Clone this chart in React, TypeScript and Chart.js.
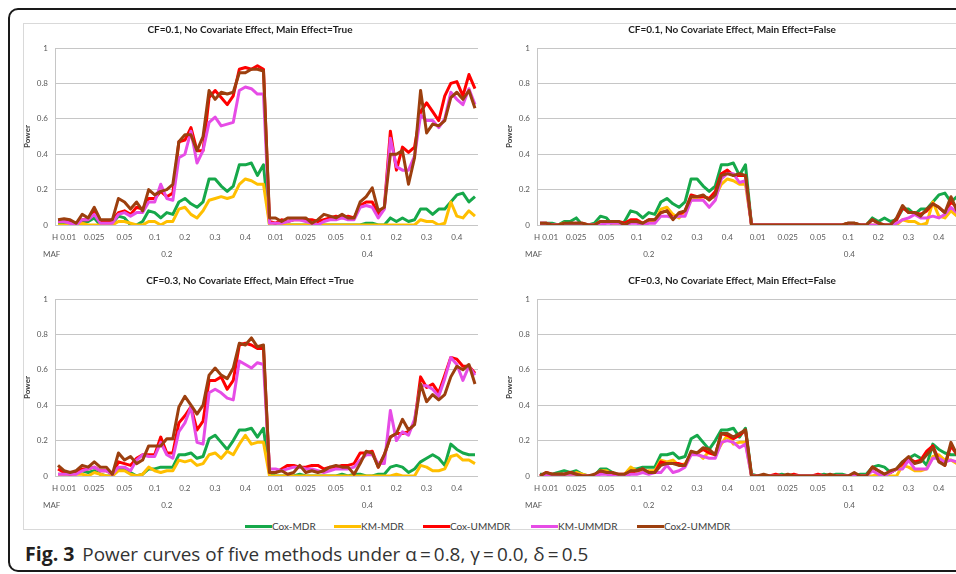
import React, { useEffect, useRef } from 'react';
import { Chart, registerables } from 'chart.js';
Chart.register(...registerables);

// ---------- axis / category data ----------
const mafLevels = ['0.2', '0.4'];
const hLevels = ['0.01', '0.025', '0.05', '0.1', '0.2', '0.3', '0.4'];
const pointsPerH = 5;
const yTicks = [0, 0.2, 0.4, 0.6, 0.8, 1];

const seriesNames = ['Cox-MDR', 'KM-MDR', 'Cox-UMMDR', 'KM-UMMDR', 'Cox2-UMMDR'];
const seriesColors = ['#16a84a', '#ffbf00', '#ff0000', '#e64ce6', '#9c3f0e'];

const panelTitles = [
  'CF=0.1, No Covariate Effect, Main Effect=True',
  'CF=0.1, No Covariate Effect, Main Effect=False',
  'CF=0.3, No Covariate Effect, Main Effect =True',
  'CF=0.3, No Covariate Effect, Main Effect=False',
];

// ---------- series values (70 points: MAF x H x 5) ----------
const coxMDR_cf01 = [
  0.01, 0.01, 0.01, 0.0, 0.02, 0.02, 0.04, 0.0, 0.0, 0.01, 0.05, 0.04, 0.0, 0.0, 0.02,
  0.08, 0.07, 0.04, 0.07, 0.06, 0.13, 0.15, 0.12, 0.1, 0.13, 0.26, 0.26, 0.22, 0.19, 0.22,
  0.34, 0.34, 0.35, 0.28, 0.34,
  0, 0, 0, 0, 0, 0, 0, 0, 0, 0, 0, 0, 0, 0, 0,
  0.0, 0.01, 0.01, 0.0, 0.0, 0.04, 0.02, 0.04, 0.02, 0.03, 0.09, 0.09, 0.06, 0.09, 0.09,
  0.13, 0.17, 0.18, 0.13, 0.16,
];
const kmMDR_cf01 = [
  0, 0, 0, 0, 0.01, 0, 0, 0, 0, 0, 0.02, 0.02, 0.01, 0, 0,
  0.02, 0.02, 0, 0.02, 0.02, 0.09, 0.1, 0.06, 0.04, 0.08, 0.14, 0.15, 0.16, 0.15, 0.16,
  0.23, 0.26, 0.25, 0.23, 0.23,
  0, 0, 0, 0, 0, 0, 0, 0, 0, 0, 0, 0, 0, 0, 0,
  0, 0, 0, 0, 0, 0, 0, 0, 0, 0, 0.03, 0.02, 0.02, 0.0, 0.01,
  0.13, 0.05, 0.04, 0.08, 0.05,
];
const coxUMMDR_p1 = [
  0.02, 0.02, 0.02, 0.01, 0.03, 0.03, 0.08, 0.02, 0.02, 0.03, 0.07, 0.08, 0.06, 0.1, 0.09,
  0.15, 0.15, 0.19, 0.16, 0.18, 0.47, 0.48, 0.55, 0.42, 0.42, 0.72, 0.76, 0.72, 0.68, 0.73,
  0.88, 0.89, 0.88, 0.9, 0.88,
  0.02, 0.01, 0.03, 0.02, 0.03, 0.03, 0.03, 0.03, 0.02, 0.03, 0.04, 0.05, 0.04, 0.05, 0.04,
  0.11, 0.13, 0.13, 0.06, 0.1, 0.53, 0.31, 0.44, 0.41, 0.44, 0.64, 0.69, 0.64, 0.59, 0.73,
  0.8, 0.81, 0.73, 0.85, 0.77,
];
const kmUMMDR_p1 = [
  0.02, 0.02, 0.01, 0.0, 0.03, 0.03, 0.06, 0.01, 0.01, 0.01, 0.06, 0.07, 0.05, 0.07, 0.07,
  0.13, 0.13, 0.23, 0.15, 0.14, 0.38, 0.4, 0.53, 0.35, 0.42, 0.58, 0.61, 0.56, 0.57, 0.58,
  0.76, 0.78, 0.77, 0.74, 0.74,
  0.01, 0.01, 0.01, 0.02, 0.03, 0.03, 0.02, 0.01, 0.0, 0.02, 0.03, 0.03, 0.04, 0.03, 0.03,
  0.1, 0.11, 0.1, 0.04, 0.09, 0.49, 0.33, 0.31, 0.31, 0.39, 0.62, 0.59, 0.59, 0.55, 0.6,
  0.75, 0.71, 0.68, 0.77, 0.68,
];
const cox2UMMDR_p1 = [
  0.03, 0.035, 0.03, 0.01, 0.06, 0.04, 0.1, 0.03, 0.03, 0.03, 0.15, 0.13, 0.09, 0.13, 0.08,
  0.2, 0.17, 0.19, 0.2, 0.23, 0.47, 0.51, 0.51, 0.42, 0.5, 0.76, 0.71, 0.75, 0.74, 0.75,
  0.86, 0.86, 0.88, 0.88, 0.87,
  0.04, 0.04, 0.02, 0.04, 0.04, 0.04, 0.04, 0.01, 0.03, 0.06, 0.05, 0.04, 0.06, 0.04, 0.04,
  0.13, 0.16, 0.21, 0.08, 0.1, 0.4, 0.4, 0.42, 0.23, 0.38, 0.76, 0.52, 0.57, 0.56, 0.59,
  0.72, 0.75, 0.71, 0.76, 0.66,
];
const coxUMMDR_p2 = [
  0.01, 0.01, 0, 0, 0, 0.01, 0.01, 0.01, 0, 0, 0.02, 0.02, 0.02, 0.02, 0.01,
  0.03, 0.03, 0.01, 0.03, 0.03, 0.07, 0.08, 0.04, 0.06, 0.08, 0.17, 0.16, 0.16, 0.15, 0.19,
  0.29, 0.31, 0.28, 0.28, 0.28,
  0, 0, 0, 0, 0, 0, 0, 0, 0, 0, 0, 0, 0, 0, 0,
  0.0, 0.01, 0.01, 0.0, 0.0, 0.03, 0.01, 0.0, 0.0, 0.03, 0.1, 0.07, 0.07, 0.06, 0.08,
  0.12, 0.1, 0.07, 0.13, 0.1,
];
const kmUMMDR_p2 = [
  0.01, 0.01, 0, 0, 0, 0, 0.01, 0, 0, 0, 0, 0.01, 0.01, 0.01, 0,
  0.01, 0.01, 0, 0.01, 0.01, 0.05, 0.05, 0.04, 0.05, 0.05, 0.14, 0.14, 0.14, 0.1, 0.14,
  0.26, 0.29, 0.29, 0.24, 0.25,
  0, 0, 0, 0, 0, 0, 0, 0, 0, 0, 0, 0, 0, 0, 0,
  0, 0, 0, 0, 0, 0, 0, 0, 0, 0.01, 0.03, 0.04, 0.06, 0.04, 0.04,
  0.05, 0.04, 0.06, 0.1, 0.07,
];
const cox2UMMDR_p2 = [
  0.01, 0.01, 0, 0, 0.01, 0.01, 0.01, 0.01, 0, 0, 0.02, 0.02, 0.02, 0.02, 0,
  0.02, 0.02, 0.01, 0.03, 0.03, 0.07, 0.08, 0.03, 0.07, 0.08, 0.16, 0.16, 0.17, 0.14, 0.17,
  0.28, 0.29, 0.28, 0.29, 0.28,
  0, 0, 0, 0, 0, 0, 0, 0, 0, 0, 0, 0, 0, 0, 0,
  0.0, 0.01, 0.01, 0.0, 0.0, 0.03, 0.01, 0.0, 0.0, 0.04, 0.11, 0.07, 0.07, 0.05, 0.09,
  0.12, 0.1, 0.07, 0.16, 0.08,
];
const coxMDR_cf03 = [
  0.01, 0.01, 0.01, 0.02, 0.03, 0.02, 0.03, 0.01, 0.0, 0.0, 0.04, 0.04, 0.02, 0.0, 0.01,
  0.04, 0.04, 0.05, 0.05, 0.05, 0.12, 0.12, 0.13, 0.1, 0.11, 0.21, 0.23, 0.19, 0.15, 0.2,
  0.26, 0.26, 0.27, 0.22, 0.27,
  0.01, 0, 0, 0, 0, 0.01, 0, 0, 0, 0, 0, 0, 0.01, 0, 0.01,
  0.01, 0, 0, 0.01, 0.01, 0.05, 0.06, 0.05, 0.02, 0.04, 0.08, 0.1, 0.12, 0.1, 0.06,
  0.18, 0.15, 0.13, 0.12, 0.12,
];
const kmMDR_cf03 = [
  0, 0, 0, 0.01, 0.01, 0, 0.02, 0.01, 0, 0, 0.03, 0.03, 0.01, 0, 0.01,
  0.05, 0.03, 0.02, 0.03, 0.03, 0.09, 0.08, 0.09, 0.06, 0.07, 0.12, 0.13, 0.1, 0.14, 0.12,
  0.18, 0.23, 0.18, 0.19, 0.19,
  0, 0, 0, 0, 0, 0, 0, 0, 0, 0, 0, 0, 0, 0, 0,
  0, 0, 0, 0, 0, 0, 0.01, 0, 0, 0, 0.06, 0.05, 0.03, 0.03, 0.04,
  0.11, 0.12, 0.09, 0.09, 0.07,
];
const coxUMMDR_p3 = [
  0.04, 0.02, 0.01, 0.02, 0.04, 0.04, 0.05, 0.03, 0.03, 0.01, 0.08, 0.07, 0.06, 0.1, 0.12,
  0.12, 0.12, 0.22, 0.13, 0.13, 0.3, 0.34, 0.39, 0.26, 0.31, 0.54, 0.54, 0.56, 0.49, 0.54,
  0.74, 0.75, 0.74, 0.72, 0.72,
  0.02, 0.02, 0.04, 0.06, 0.06, 0.05, 0.05, 0.06, 0.06, 0.04, 0.05, 0.05, 0.06, 0.06, 0.07,
  0.13, 0.13, 0.14, 0.05, 0.12, 0.22, 0.24, 0.24, 0.25, 0.3, 0.56, 0.5, 0.52, 0.47, 0.57,
  0.67, 0.66, 0.62, 0.62, 0.58,
];
const kmUMMDR_p3 = [
  0.01, 0.01, 0.01, 0.01, 0.03, 0.04, 0.05, 0.03, 0.03, 0.01, 0.05, 0.05, 0.03, 0.09, 0.12,
  0.11, 0.11, 0.19, 0.12, 0.1, 0.25, 0.3, 0.39, 0.19, 0.18, 0.47, 0.49, 0.47, 0.44, 0.43,
  0.65, 0.63, 0.61, 0.64, 0.63,
  0.04, 0.04, 0.03, 0.04, 0.05, 0.05, 0.04, 0.04, 0.03, 0.02, 0.03, 0.04, 0.04, 0.04, 0.05,
  0.09, 0.12, 0.12, 0.07, 0.07, 0.37, 0.2, 0.25, 0.23, 0.32, 0.51, 0.51, 0.49, 0.45, 0.55,
  0.67, 0.63, 0.54, 0.62, 0.57,
];
const cox2UMMDR_p3 = [
  0.06, 0.03, 0.02, 0.03, 0.06, 0.05, 0.08, 0.05, 0.05, 0.01, 0.13, 0.09, 0.11, 0.07, 0.09,
  0.17, 0.17, 0.17, 0.21, 0.21, 0.39, 0.45, 0.4, 0.35, 0.4, 0.57, 0.61, 0.57, 0.55, 0.61,
  0.75, 0.74, 0.78, 0.73, 0.74,
  0.02, 0.02, 0.03, 0.01, 0.02, 0.06, 0.02, 0.03, 0.02, 0.03, 0.05, 0.06, 0.05, 0.05, 0.01,
  0.07, 0.14, 0.13, 0.05, 0.12, 0.22, 0.24, 0.32, 0.26, 0.29, 0.52, 0.42, 0.46, 0.43, 0.46,
  0.56, 0.62, 0.6, 0.63, 0.52,
];
const coxUMMDR_p4 = [
  0, 0.02, 0.01, 0.01, 0.01, 0.02, 0.01, 0, 0, 0, 0.02, 0.02, 0.01, 0.01, 0.01,
  0.02, 0.03, 0.04, 0.02, 0.02, 0.08, 0.07, 0.07, 0.07, 0.06, 0.13, 0.13, 0.15, 0.13, 0.12,
  0.24, 0.23, 0.21, 0.23, 0.26,
  0, 0, 0, 0, 0.01, 0, 0, 0.01, 0, 0, 0, 0.01, 0, 0, 0,
  0, 0, 0.01, 0, 0, 0.05, 0.03, 0.01, 0.02, 0.04, 0.07, 0.1, 0.08, 0.09, 0.14,
  0.17, 0.09, 0.06, 0.17, 0.12,
];
const kmUMMDR_p4 = [
  0, 0.01, 0, 0, 0.01, 0.01, 0.01, 0, 0, 0, 0.01, 0.01, 0, 0, 0,
  0.01, 0.01, 0.02, 0.01, 0.02, 0.02, 0.06, 0.02, 0.03, 0.05, 0.12, 0.12, 0.11, 0.1, 0.1,
  0.19, 0.2, 0.19, 0.16, 0.18,
  0, 0, 0, 0, 0, 0, 0, 0, 0, 0, 0, 0, 0, 0, 0,
  0, 0, 0, 0, 0, 0.03, 0.01, 0.0, 0.02, 0.04, 0.04, 0.09, 0.04, 0.04, 0.04,
  0.1, 0.1, 0.08, 0.09, 0.08,
];
const cox2UMMDR_p4 = [
  0, 0.02, 0.01, 0.01, 0.01, 0.02, 0.01, 0, 0, 0.01, 0.03, 0.02, 0.02, 0.01, 0.01,
  0.03, 0.03, 0.04, 0.02, 0.02, 0.06, 0.07, 0.07, 0.06, 0.06, 0.14, 0.13, 0.16, 0.15, 0.12,
  0.24, 0.24, 0.22, 0.24, 0.26,
  0, 0, 0.01, 0, 0, 0, 0.01, 0, 0, 0, 0, 0, 0, 0.01, 0,
  0, 0, 0.02, 0, 0, 0.05, 0.03, 0.01, 0.03, 0.04, 0.08, 0.11, 0.07, 0.08, 0.12,
  0.16, 0.08, 0.06, 0.19, 0.12,
];

// ---------- derived structures ----------
const categories: string[] = [];
mafLevels.forEach((m) => hLevels.forEach((h) => {
  for (let k = 0; k < pointsPerH; k++) categories.push(`${m}|${h}|${k + 1}`);
}));

const panels = [
  { title: panelTitles[0], left: 23, top: 23, series: [coxMDR_cf01, kmMDR_cf01, coxUMMDR_p1, kmUMMDR_p1, cox2UMMDR_p1] },
  { title: panelTitles[1], left: 505, top: 23, series: [coxMDR_cf01, kmMDR_cf01, coxUMMDR_p2, kmUMMDR_p2, cox2UMMDR_p2] },
  { title: panelTitles[2], left: 23, top: 274, series: [coxMDR_cf03, kmMDR_cf03, coxUMMDR_p3, kmUMMDR_p3, cox2UMMDR_p3] },
  { title: panelTitles[3], left: 505, top: 274, series: [coxMDR_cf03, kmMDR_cf03, coxUMMDR_p4, kmUMMDR_p4, cox2UMMDR_p4] },
];

const legendX = [245, 334, 423, 531, 637];

const CW = 460;
const CH = 245;
const FONT = 'Lato, "Open Sans", sans-serif';

function makeLabelPlugin(title: string) {
  return {
    id: 'excelLabels',
    afterDraw(chart: any) {
      const { ctx, chartArea } = chart;
      const x = chart.scales.x;
      ctx.save();
      // title
      ctx.fillStyle = '#1e1e1e';
      ctx.font = `bold 10px ${FONT}`;
      ctx.textAlign = 'center';
      ctx.textBaseline = 'middle';
      ctx.fillText(title, 227, 6.5);
      // axis title
      ctx.save();
      ctx.translate(4.5, (chartArea.top + chartArea.bottom) / 2);
      ctx.rotate(-Math.PI / 2);
      ctx.font = `bold 8px ${FONT}`;
      ctx.fillStyle = '#404040';
      ctx.fillText('Power', 0, 0);
      ctx.restore();
      // category labels
      ctx.font = `8px ${FONT}`;
      ctx.fillStyle = '#595959';
      const per = hLevels.length * pointsPerH;
      const yH = chartArea.bottom + 12.5;
      const yM = chartArea.bottom + 29;
      mafLevels.forEach((m, mi) => {
        hLevels.forEach((h, hi) => {
          const px = x.getPixelForValue(mi * per + hi * pointsPerH + 1);
          const txt = mi === 0 && hi === 0 ? 'H ' + h : h;
          ctx.fillText(txt, px, yH);
        });
        const mpx = x.getPixelForValue(mi * per + (mi === 0 ? 18 : 16.2));
        ctx.fillText(m, mpx, yM);
      });
      ctx.textAlign = 'left';
      ctx.fillText('MAF', chartArea.left - 12, yM);
      ctx.restore();
    },
  };
}

function Panel({ title, left, top, series }: { title: string; left: number; top: number; series: number[][] }) {
  const ref = useRef<HTMLCanvasElement>(null);
  useEffect(() => {
    const chart = new Chart(ref.current as HTMLCanvasElement, {
      type: 'line',
      data: {
        labels: categories,
        datasets: series.map((d, i) => ({
          label: seriesNames[i],
          data: d,
          borderColor: seriesColors[i],
          backgroundColor: seriesColors[i],
          borderWidth: 3,
          pointRadius: 0,
          tension: 0,
          fill: false,
          order: series.length - i,
          borderJoinStyle: 'round' as const,
        })),
      },
      options: {
        animation: false,
        responsive: false,
        maintainAspectRatio: false,
        events: [],
        layout: { padding: { top: 25, right: 5, left: 0, bottom: 0 } },
        plugins: { legend: { display: false }, tooltip: { enabled: false }, title: { display: false } },
        scales: {
          x: {
            type: 'category',
            offset: true,
            grid: { display: false },
            border: { display: false },
            ticks: { display: false },
            afterFit: (s: any) => { s.height = 43; },
          },
          y: {
            min: 0,
            max: 1,
            afterBuildTicks: (s: any) => { s.ticks = yTicks.map((v) => ({ value: v })); },
            ticks: {
              padding: 7,
              color: '#595959',
              font: { family: FONT, size: 8 },
              callback: (v: any) => String(Math.round(Number(v) * 10) / 10),
            },
            grid: { color: '#c6c6c6', drawTicks: false, lineWidth: 1 },
            border: { display: true, color: '#c6c6c6' },
            afterFit: (s: any) => { s.width = 32; },
          },
        },
      } as any,
      plugins: [makeLabelPlugin(title)],
    });
    return () => chart.destroy();
  }, []);
  return (
    <canvas
      ref={ref}
      width={CW}
      height={CH}
      style={{ position: 'absolute', left, top, width: CW, height: CH }}
    />
  );
}

export default function App() {
  const ts = '\u2009';
  return (
    <div style={{ position: 'absolute', left: 0, top: 0, width: 956, height: 574, overflow: 'hidden', background: '#fff' }}>
      <div style={{ position: 'absolute', left: 8, top: 8, width: 980, height: 564, border: '2px solid #1a1a1a', borderRadius: 10, boxSizing: 'border-box' }} />
      <div style={{ position: 'absolute', left: 23, top: 23, width: 980, height: 507, border: '1px solid #d9d9d9', boxSizing: 'border-box' }} />
      {panels.map((p, i) => (
        <Panel key={i} title={p.title} left={p.left} top={p.top} series={p.series} />
      ))}
      {seriesNames.map((n, i) => (
        <div key={n} style={{ position: 'absolute', left: legendX[i], top: 519, height: 14, display: 'flex', alignItems: 'center', fontFamily: FONT, fontSize: 10, color: '#404040', whiteSpace: 'nowrap' }}>
          <span style={{ display: 'inline-block', width: 27, height: 3, background: seriesColors[i] }} />
          <span>{n}</span>
        </div>
      ))}
      <div style={{ position: 'absolute', left: 25, top: 542, fontFamily: '"Open Sans", sans-serif', fontSize: 18.9, lineHeight: '24px', color: '#333', whiteSpace: 'nowrap' }}>
        <b style={{ color: '#231f20', fontSize: 19.5, marginRight: 3 }}>Fig. 3</b> Power curves of five methods under α{ts}={ts}0.8, γ{ts}={ts}0.0, δ{ts}={ts}0.5
      </div>
    </div>
  );
}
